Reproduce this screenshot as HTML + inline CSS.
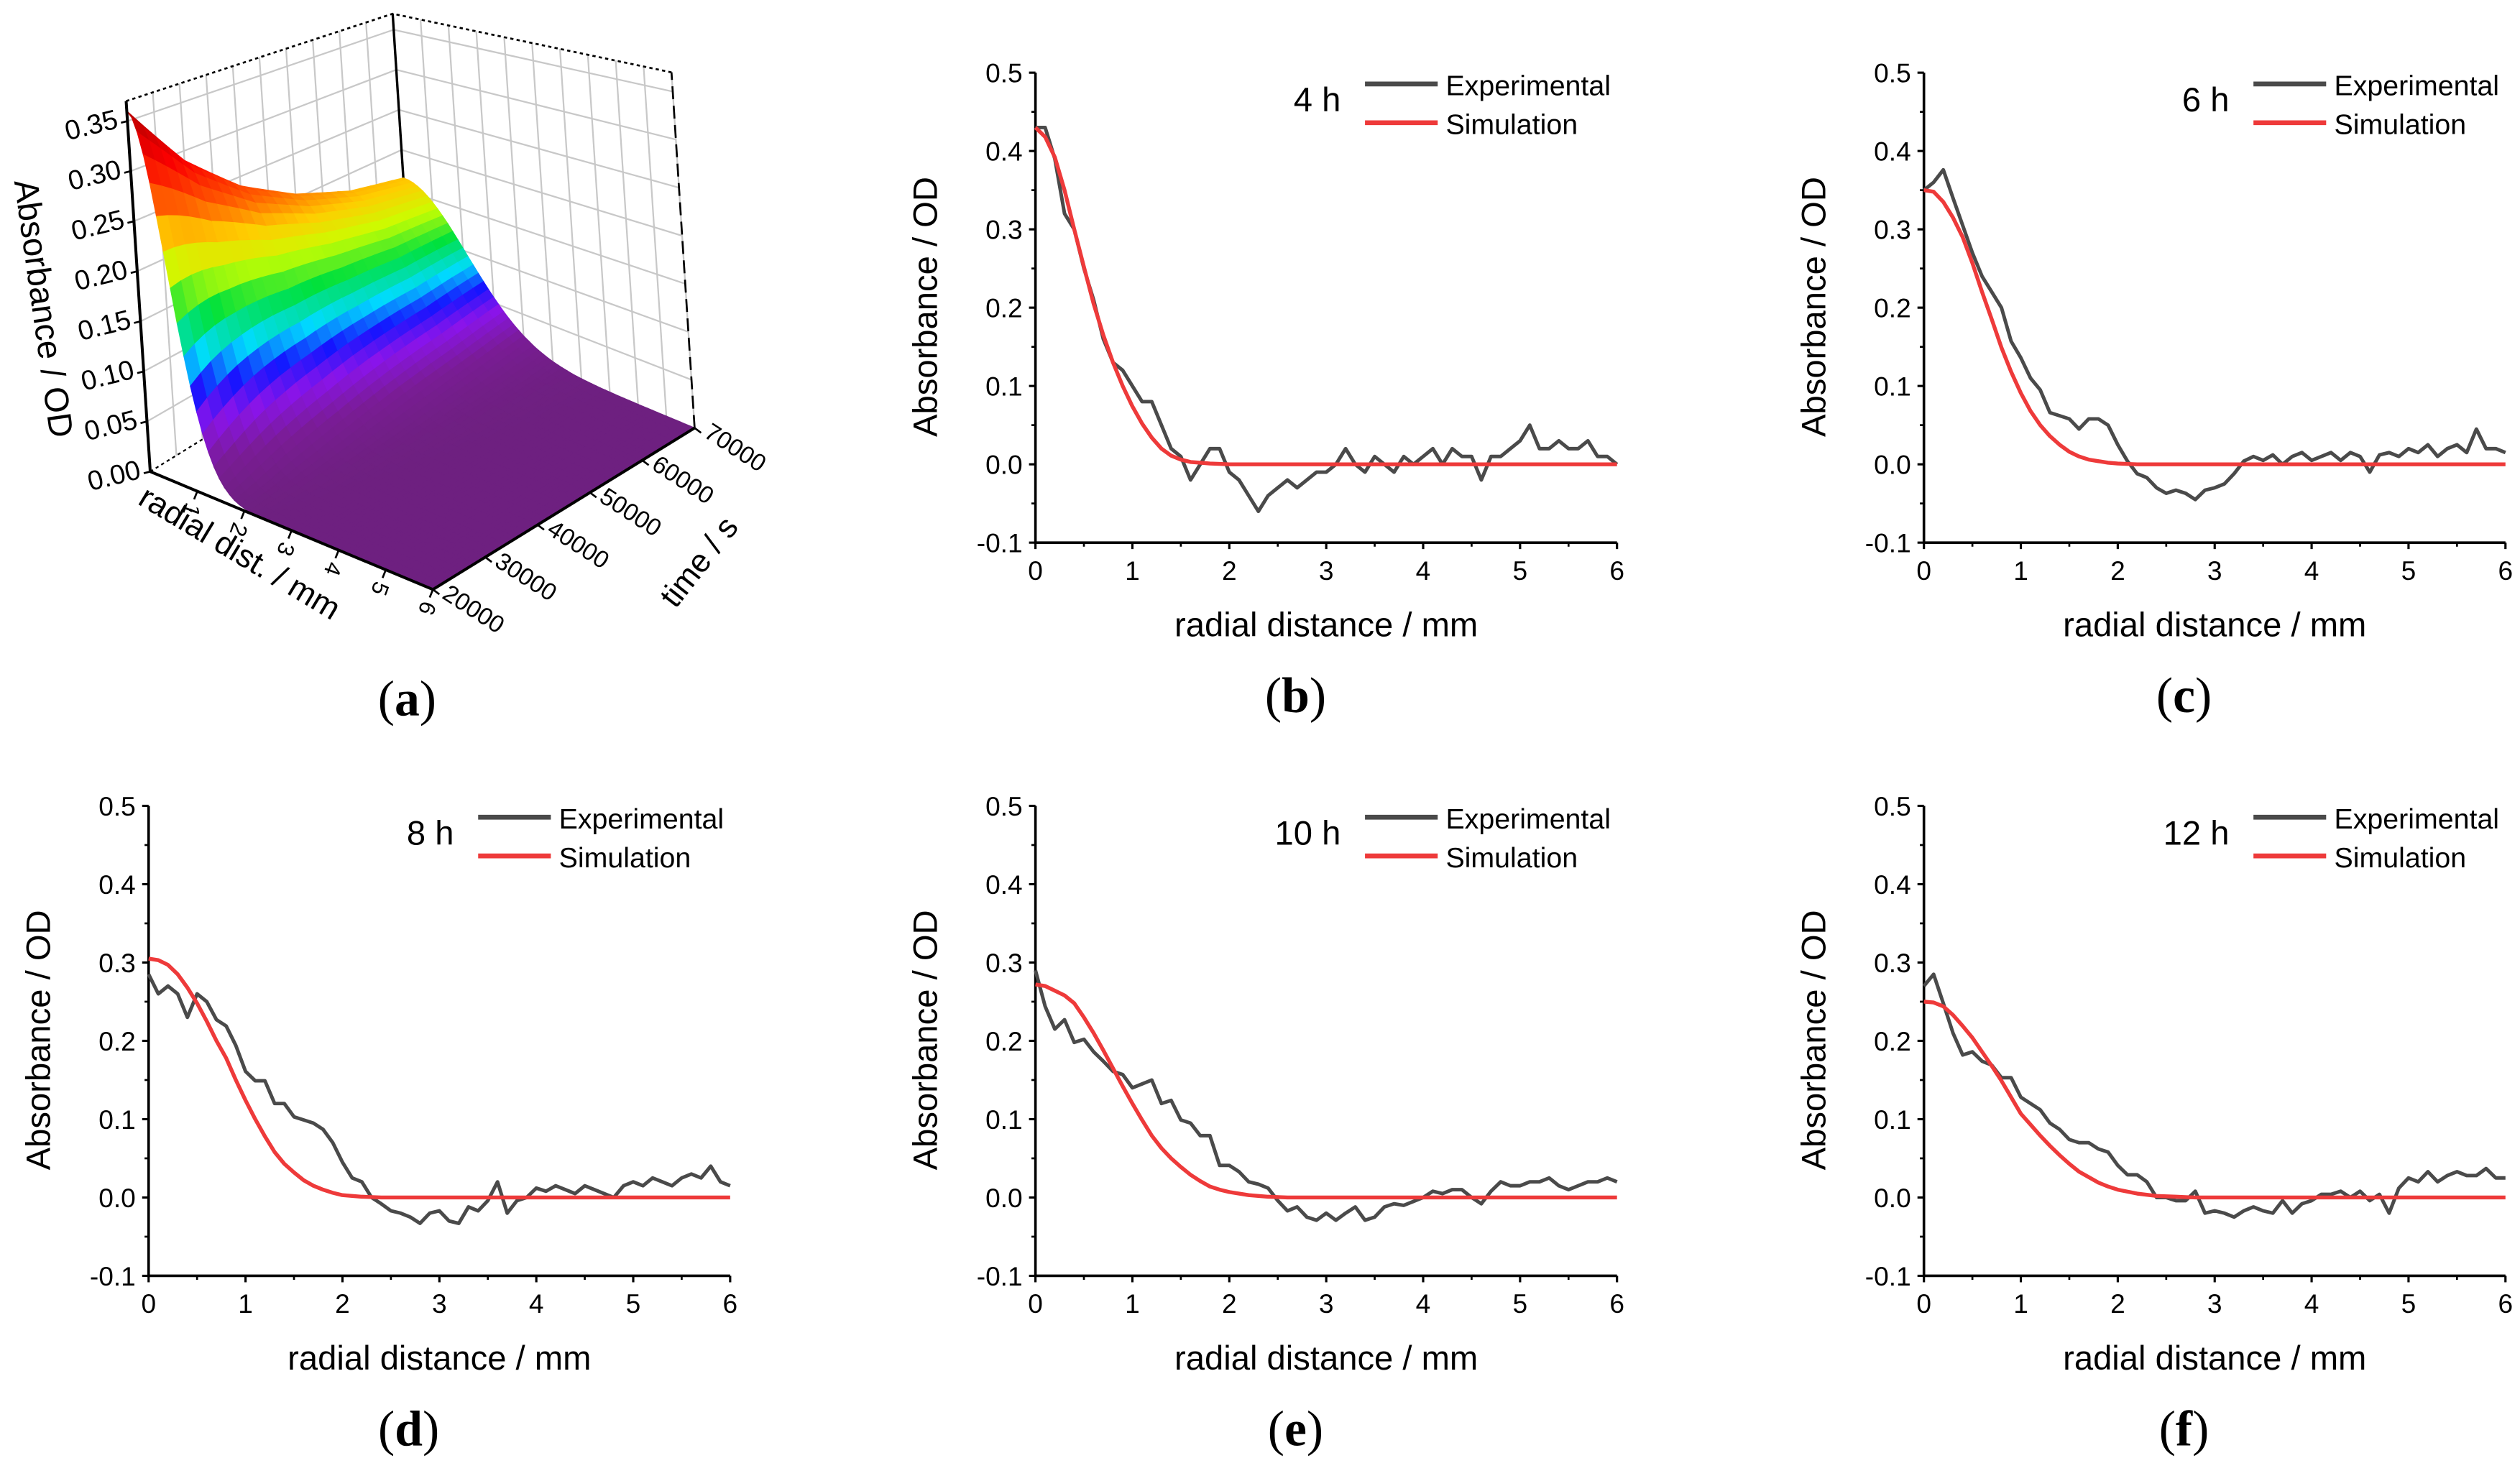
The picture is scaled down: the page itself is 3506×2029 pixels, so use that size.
<!DOCTYPE html>
<html><head><meta charset="utf-8"><title>Absorbance profiles</title>
<style>
html,body{margin:0;padding:0;background:#fff;}
svg{display:block;}
text{font-family:"Liberation Sans",Arial,sans-serif;fill:#000;}
.plab{font-family:"Liberation Serif","Times New Roman",serif;font-size:31px;}
</style></head>
<body>
<svg id="fig" xmlns="http://www.w3.org/2000/svg" width="3506" height="2029" viewBox="0 0 1560 902.8">
<g id="panelA"></g>
<g id="panels2d"></g>
</svg>
<script>
// ---------- 2D panel data ----------
const radialGrid = [0,0.1,0.2,0.3,0.4,0.5,0.6,0.7,0.8,0.9,1,1.1,1.2,1.3,1.4,1.5,1.6,1.7,1.8,1.9,2,2.1,2.2,2.3,2.4,2.5,2.6,2.7,2.8,2.9,3,3.1,3.2,3.3,3.4,3.5,3.6,3.7,3.8,3.9,4,4.1,4.2,4.3,4.4,4.5,4.6,4.7,4.8,4.9,5,5.1,5.2,5.3,5.4,5.5,5.6,5.7,5.8,5.9,6];
const simGrid = [0,0.1,0.2,0.3,0.4,0.5,0.6,0.7,0.8,0.9,1,1.1,1.2,1.3,1.4,1.5,1.6,1.7,1.8,1.9,2,2.2,2.4,2.6,2.8,3,4,5,6];
const panelTags = ["b","c","d","e","f"];
const panelTimes = ["4 h","6 h","8 h","10 h","12 h"];
const yTicks = [-0.1,0.0,0.1,0.2,0.3,0.4,0.5];
const yTickLabels = ["-0.1","0.0","0.1","0.2","0.3","0.4","0.5"];
const xTicks = [0,1,2,3,4,5,6];
const xTickLabels = ["0","1","2","3","4","5","6"];
const exp4h = [0.43,0.43,0.39,0.32,0.30,0.25,0.21,0.16,0.13,0.12,0.10,0.08,0.08,0.05,0.02,0.01,-0.02,0.0,0.02,0.02,-0.01,-0.02,-0.04,-0.06,-0.04,-0.03,-0.02,-0.03,-0.02,-0.01,-0.01,0.0,0.02,0.0,-0.01,0.01,0.0,-0.01,0.01,0.0,0.01,0.02,0.0,0.02,0.01,0.01,-0.02,0.01,0.01,0.02,0.03,0.05,0.02,0.02,0.03,0.02,0.02,0.03,0.01,0.01,0.0];
const exp6h = [0.35,0.36,0.376,0.34,0.305,0.27,0.24,0.22,0.20,0.157,0.136,0.11,0.095,0.066,0.062,0.058,0.045,0.058,0.058,0.05,0.025,0.004,-0.012,-0.017,-0.03,-0.037,-0.033,-0.037,-0.045,-0.033,-0.03,-0.025,-0.012,0.004,0.01,0.005,0.012,0.0,0.01,0.015,0.005,0.01,0.015,0.005,0.015,0.01,-0.01,0.012,0.015,0.01,0.02,0.015,0.025,0.01,0.02,0.025,0.015,0.045,0.02,0.02,0.015];
const exp8h = [0.285,0.26,0.27,0.26,0.23,0.26,0.25,0.227,0.219,0.194,0.161,0.149,0.149,0.12,0.12,0.103,0.099,0.095,0.087,0.07,0.045,0.025,0.02,0.0,-0.008,-0.017,-0.02,-0.025,-0.033,-0.02,-0.017,-0.03,-0.033,-0.012,-0.017,-0.004,0.02,-0.02,-0.004,0.0,0.012,0.008,0.015,0.01,0.005,0.015,0.01,0.005,0.0,0.015,0.02,0.015,0.025,0.02,0.015,0.025,0.03,0.025,0.04,0.02,0.015];
const exp10h = [0.29,0.244,0.215,0.227,0.198,0.202,0.186,0.174,0.161,0.157,0.14,0.145,0.15,0.12,0.124,0.099,0.095,0.079,0.079,0.041,0.041,0.033,0.02,0.017,0.012,-0.004,-0.017,-0.012,-0.025,-0.029,-0.02,-0.029,-0.02,-0.012,-0.029,-0.025,-0.012,-0.008,-0.01,-0.005,0.0,0.008,0.005,0.01,0.01,0.0,-0.008,0.008,0.02,0.015,0.015,0.02,0.02,0.025,0.015,0.01,0.015,0.02,0.02,0.025,0.02];
const exp12h = [0.27,0.285,0.248,0.21,0.182,0.186,0.174,0.169,0.153,0.153,0.128,0.12,0.112,0.095,0.087,0.074,0.07,0.07,0.062,0.058,0.041,0.029,0.029,0.02,0.0,0.0,-0.004,-0.004,0.008,-0.02,-0.017,-0.02,-0.025,-0.017,-0.012,-0.017,-0.02,-0.004,-0.02,-0.008,-0.004,0.004,0.004,0.008,0.0,0.008,-0.004,0.004,-0.02,0.012,0.025,0.02,0.033,0.02,0.028,0.033,0.028,0.028,0.037,0.025,0.025];
const sim4h = [0.43,0.418,0.392,0.35,0.30,0.252,0.205,0.165,0.13,0.10,0.074,0.052,0.034,0.02,0.011,0.006,0.003,0.002,0.001,0.0005,0,0,0,0,0,0,0,0,0];
const sim6h = [0.35,0.348,0.335,0.315,0.29,0.257,0.22,0.185,0.149,0.118,0.091,0.068,0.05,0.036,0.025,0.016,0.01,0.006,0.004,0.002,0.001,0,0,0,0,0,0,0,0];
const sim8h = [0.305,0.303,0.297,0.285,0.268,0.248,0.225,0.20,0.178,0.15,0.124,0.10,0.078,0.058,0.043,0.032,0.022,0.015,0.01,0.006,0.003,0.001,0,0,0,0,0,0,0];
const sim10h = [0.272,0.27,0.264,0.258,0.248,0.23,0.21,0.188,0.165,0.142,0.12,0.099,0.079,0.063,0.05,0.039,0.029,0.021,0.014,0.01,0.007,0.003,0.001,0,0,0,0,0,0];
const sim12h = [0.25,0.249,0.244,0.233,0.219,0.204,0.186,0.168,0.149,0.128,0.107,0.093,0.079,0.066,0.054,0.043,0.033,0.026,0.019,0.014,0.01,0.005,0.002,0.001,0,0,0,0,0];

// ---------- 3D surface data ----------
const surfTimes = [20000,30000,40000,50000,60000,70000];
const surfPeaks = [0.36,0.29,0.24,0.205,0.18,0.165];
const surfHalfWidths = [0.75,0.92,1.06,1.2,1.32,1.45];
const zTickVals = [0.00,0.05,0.10,0.15,0.20,0.25,0.30,0.35];
const zTickLabels = ["0.00","0.05","0.10","0.15","0.20","0.25","0.30","0.35"];
const rTickVals = [1,2,3,4,5,6];
const rTickLabels = ["1","2","3","4","5","6"];
const tTickVals = [20000,30000,40000,50000,60000,70000];
const tTickLabels = ["20000","30000","40000","50000","60000","70000"];

const NS = "http://www.w3.org/2000/svg";
function mk(tag, attrs, parent){
  const e = document.createElementNS(NS, tag);
  for (const k in attrs) e.setAttribute(k, attrs[k]);
  parent.appendChild(e);
  return e;
}

// ---------- 2D panels ----------
const layouts = [
  {x0:641,y0:45},{x0:1191,y0:45},{x0:92,y0:499},{x0:641,y0:499},{x0:1191,y0:499}
];
const expSets = [exp4h,exp6h,exp8h,exp10h,exp12h];
const simSets = [sim4h,sim6h,sim8h,sim10h,sim12h];
const root2d = document.getElementById("panels2d");

for (let p=0;p<5;p++){
  const L = layouts[p];
  const W = 360, H = 291;
  const xs = v => L.x0 + v/6*W;
  const ys = v => L.y0 + (0.5 - v)/0.6*H;
  const g = mk("g",{},root2d);
  
  

  const ax = mk("path",{d:`M${L.x0},${L.y0} L${L.x0},${L.y0+H} L${L.x0+W},${L.y0+H}`,fill:"none",stroke:"#000","stroke-width":1.6},g);
  
  

  for (let i=0;i<yTicks.length;i++){
    const y = ys(yTicks[i]);
    const t = mk("line",{x1:L.x0-4,x2:L.x0,y1:y,y2:y,stroke:"#000","stroke-width":1.4},g);
    
    
    if (i<yTicks.length-1){
      const ym = ys(yTicks[i]+0.05);
      const tm = mk("line",{x1:L.x0-2.5,x2:L.x0,y1:ym,y2:ym,stroke:"#000","stroke-width":1.2},g);
      
      
    }
    const lb = mk("text",{x:L.x0-8,y:y+6,"text-anchor":"end","font-size":16.5},g);
    lb.textContent = yTickLabels[i];
    
    
  }
  for (let i=0;i<xTicks.length;i++){
    const x = xs(xTicks[i]);
    const t = mk("line",{x1:x,x2:x,y1:L.y0+H,y2:L.y0+H+4,stroke:"#000","stroke-width":1.4},g);
    
    
    if (i<xTicks.length-1){
      const xm = xs(xTicks[i]+0.5);
      const tm = mk("line",{x1:xm,x2:xm,y1:L.y0+H,y2:L.y0+H+2.5,stroke:"#000","stroke-width":1.2},g);
      
      
    }
    const lb = mk("text",{x:x,y:L.y0+H+23,"text-anchor":"middle","font-size":16.5},g);
    lb.textContent = xTickLabels[i];
    
    
  }
  const xt = mk("text",{x:L.x0+180,y:L.y0+H+58,"text-anchor":"middle","font-size":21},g);
  xt.textContent = "radial distance / mm";
  
  
  const yt = mk("text",{x:0,y:0,"text-anchor":"middle","font-size":21,transform:`translate(${L.x0-61},${L.y0+145}) rotate(-90)`},g);
  yt.textContent = "Absorbance / OD";
  
  
  const pl = mk("text",{x:L.x0+161,y:L.y0+H+105,"text-anchor":"middle","class":"plab"},g);
  pl.innerHTML = '(<tspan font-weight="bold">'+panelTags[p]+'</tspan>)';
  
  

  const sg = mk("g",{},g);
  
  
  let d = "";
  const ev = expSets[p];
  for (let i=0;i<ev.length;i++) d += (i?"L":"M") + xs(radialGrid[i]).toFixed(2) + "," + ys(ev[i]).toFixed(2);
  const ep = mk("path",{d:d,fill:"none",stroke:"#4a4a4a","stroke-width":2.2,"stroke-linejoin":"round"},sg);
  
  
  let ds = "";
  const sv = simSets[p];
  for (let i=0;i<sv.length;i++) ds += (i?"L":"M") + xs(simGrid[i]).toFixed(2) + "," + ys(sv[i]).toFixed(2);
  const sp = mk("path",{d:ds,fill:"none",stroke:"#ee3a3a","stroke-width":2.4,"stroke-linejoin":"round"},sg);
  
  

  const lg = mk("g",{},g);
  
  
  const tl = mk("text",{x:L.x0+189,y:L.y0+24,"text-anchor":"end","font-size":21},lg);
  tl.textContent = panelTimes[p];
  
  
  const l1 = mk("line",{x1:L.x0+204,x2:L.x0+249,y1:L.y0+7,y2:L.y0+7,stroke:"#4a4a4a","stroke-width":3},lg);
  
  
  const t1 = mk("text",{x:L.x0+254,y:L.y0+14,"font-size":17.5},lg);
  t1.textContent = "Experimental";
  
  
  const l2 = mk("line",{x1:L.x0+204,x2:L.x0+249,y1:L.y0+31,y2:L.y0+31,stroke:"#ee3a3a","stroke-width":3},lg);
  
  
  const t2 = mk("text",{x:L.x0+254,y:L.y0+38,"font-size":17.5},lg);
  t2.textContent = "Simulation";
  
  
}

// ---------- Panel (a): 3D surface ----------
const A = document.getElementById("panelA");
const O = [93,292], RV = [175,73], TV = [162,-100], ZH = 620;
function persp(r,t){ const ft=(t-20000)/50000; return 1 - 0.2*(1 - r/6)*ft - 0.04*(r/6)*ft; }
function P(r,t,z){
  const fr = r/6, ft = (t-20000)/50000, f = persp(r,t);
  const x = O[0] + fr*RV[0] + ft*TV[0] - 0.065*z*ZH*f;
  const y = O[1] + fr*RV[1] + ft*TV[1] - z*ZH*f;
  return [x,y];
}
function interp(arrX, arrY, v){
  if (v<=arrX[0]) return arrY[0];
  for (let i=1;i<arrX.length;i++){
    if (v<=arrX[i]){ const k=(v-arrX[i-1])/(arrX[i]-arrX[i-1]); return arrY[i-1]+k*(arrY[i]-arrY[i-1]); }
  }
  return arrY[arrY.length-1];
}
function Z(r,t){
  const pk = interp(surfTimes,surfPeaks,t), w = interp(surfTimes,surfHalfWidths,t);
  return pk*Math.exp(-Math.LN2*(r/w)*(r/w));
}
const stops = [[0,[110,32,128]],[0.035,[122,28,150]],[0.07,[138,20,235]],[0.10,[20,20,255]],[0.13,[0,220,255]],[0.17,[0,225,60]],[0.21,[200,255,0]],[0.245,[255,205,0]],[0.28,[255,90,0]],[0.32,[250,0,0]],[0.37,[165,0,0]]];
function col(z){
  for (let i=1;i<stops.length;i++){
    if (z<=stops[i][0]){
      const a=stops[i-1], b=stops[i], k=(z-a[0])/(b[0]-a[0]);
      const c=a[1].map((v,j)=>Math.round(v+k*(b[1][j]-v)));
      return `rgb(${c[0]},${c[1]},${c[2]})`;
    }
  }
  return "rgb(165,0,0)";
}
const pt = a => a[0].toFixed(1)+","+a[1].toFixed(1);

const walls = mk("g",{},A);


const zTop = 0.37;
for (let t=20000;t<=70000;t+=5000){
  const a=P(0,t,0), b=P(0,t,zTop);
  const l = mk("line",{x1:a[0],y1:a[1],x2:b[0],y2:b[1],stroke:"#c8c8c8","stroke-width":1},walls);
  
  
}
for (let r=0;r<=6.01;r+=0.6){
  const a=P(r,70000,0), b=P(r,70000,zTop);
  const l = mk("line",{x1:a[0],y1:a[1],x2:b[0],y2:b[1],stroke:"#c8c8c8","stroke-width":1},walls);
  
  
}
for (let z=0.05;z<=0.37;z+=0.05){
  const a=P(0,20000,z), b=P(0,70000,z), c=P(6,70000,z);
  const l = mk("polyline",{points:pt(a)+" "+pt(b)+" "+pt(c),fill:"none",stroke:"#c8c8c8","stroke-width":1},walls);
  
  
}
const e1 = mk("polyline",{points:pt(P(0,20000,zTop))+" "+pt(P(0,70000,zTop))+" "+pt(P(6,70000,zTop)),fill:"none",stroke:"#000","stroke-width":1.2,"stroke-dasharray":"2,2"},A);


const e2 = mk("line",{x1:P(0,70000,0)[0],y1:P(0,70000,0)[1],x2:P(0,70000,zTop)[0],y2:P(0,70000,zTop)[1],stroke:"#000","stroke-width":1.5},A);


const e3 = mk("line",{x1:P(6,70000,0)[0],y1:P(6,70000,0)[1],x2:P(6,70000,zTop)[0],y2:P(6,70000,zTop)[1],stroke:"#000","stroke-width":1.2,"stroke-dasharray":"8,4"},A);


const e4 = mk("line",{x1:O[0],y1:O[1],x2:P(0,70000,0)[0],y2:P(0,70000,0)[1],stroke:"#000","stroke-width":1,"stroke-dasharray":"2,2"},A);



const surf = mk("g",{},A);


const NR = 60, NT = 25, quads = [];
for (let i=0;i<NR;i++){
  for (let j=0;j<NT;j++){
    const r0=i*6/NR, r1=(i+1)*6/NR, t0=20000+j*50000/NT, t1=20000+(j+1)*50000/NT;
    quads.push({r0,r1,t0,t1,near:(r0+r1)/12 + (70000-(t0+t1)/2)/50000});
  }
}
quads.sort((a,b)=>a.near-b.near);
for (const q of quads){
  const a=P(q.r0,q.t0,Z(q.r0,q.t0)), b=P(q.r1,q.t0,Z(q.r1,q.t0)), c=P(q.r1,q.t1,Z(q.r1,q.t1)), d=P(q.r0,q.t1,Z(q.r0,q.t1));
  const tm=(q.t0+q.t1)/2;
  const zc = Z((q.r0+q.r1)/2,tm) * (1 + 0.5*(tm-20000)/50000);
  const cc = col(zc);
  const poly = mk("polygon",{points:pt(a)+" "+pt(b)+" "+pt(c)+" "+pt(d),fill:cc,stroke:cc,"stroke-width":0.6},surf);
  
  
}
const fa = mk("polyline",{points:pt(P(0,20000,0))+" "+pt(P(6,20000,0))+" "+pt(P(6,70000,0)),fill:"none",stroke:"#000","stroke-width":1.8},A);


const za = mk("line",{x1:O[0],y1:O[1],x2:P(0,20000,zTop)[0],y2:P(0,20000,zTop)[1],stroke:"#000","stroke-width":1.8},A);


for (let i=0;i<zTickVals.length;i++){
  const p0 = P(0,20000,zTickVals[i]);
  const tk = mk("line",{x1:p0[0]-4,y1:p0[1]+1,x2:p0[0],y2:p0[1],stroke:"#000","stroke-width":1.2},A);
  
  
  const lb = mk("text",{x:0,y:0,"text-anchor":"end","font-size":17,transform:`translate(${p0[0]-5},${p0[1]+4}) rotate(-14)`},A);
  lb.textContent = zTickLabels[i];
  
  
}
const zt = mk("text",{x:0,y:0,"text-anchor":"middle","font-size":21,transform:"translate(20,192) rotate(82)"},A);
zt.textContent = "Absorbance / OD";


for (let i=0;i<rTickVals.length;i++){
  const p0 = P(rTickVals[i],20000,0);
  const tk = mk("line",{x1:p0[0],y1:p0[1],x2:p0[0]-2,y2:p0[1]+5,stroke:"#000","stroke-width":1.2},A);
  
  
  const lb = mk("text",{x:0,y:0,"text-anchor":"middle","font-size":14,transform:`translate(${p0[0]-8},${p0[1]+10}) rotate(110)`},A);
  lb.textContent = rTickLabels[i];
  
  
}
const rt = mk("text",{x:0,y:0,"text-anchor":"middle","font-size":20,transform:"translate(145,348) rotate(31)"},A);
rt.textContent = "radial dist. / mm";


for (let i=0;i<tTickVals.length;i++){
  const p0 = P(6,tTickVals[i],0);
  const tk = mk("line",{x1:p0[0],y1:p0[1],x2:p0[0]+4,y2:p0[1]+3,stroke:"#000","stroke-width":1.2},A);
  
  
  const lb = mk("text",{x:0,y:0,"font-size":15,transform:`translate(${p0[0]+5},${p0[1]+5}) rotate(33)`},A);
  lb.textContent = tTickLabels[i];
  
  
}
const tt = mk("text",{x:0,y:0,"text-anchor":"middle","font-size":20,transform:"translate(438,352) rotate(-52)"},A);
tt.textContent = "time / s";


const pa = mk("text",{x:252,y:443,"text-anchor":"middle","class":"plab"},A);
pa.innerHTML = '(<tspan font-weight="bold">a</tspan>)';


</script>
</body></html>
